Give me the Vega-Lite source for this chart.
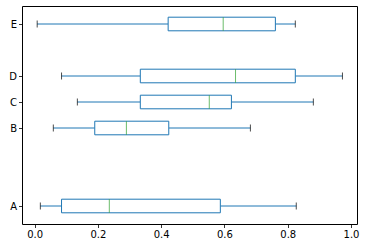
{
  "$schema": "https://vega.github.io/schema/vega-lite/v6.json",
  "width": 335,
  "height": 218,
  "autosize": "none",
  "padding": {"left": 22, "top": 6, "right": 9, "bottom": 24},
  "background": "white",
  "config": {
    "view": {"stroke": "#000000", "strokeWidth": 1},
    "axis": {
      "domain": false,
      "grid": false,
      "tickColor": "#000000",
      "tickSize": 3.5,
      "tickWidth": 0.8,
      "labelFont": "DejaVu Sans",
      "labelFontSize": 10,
      "labelColor": "#000000",
      "labelPadding": 2,
      "title": null
    }
  },
  "data": {
    "values": [
      {"name": "A", "pos": 1, "low": 0.018, "q1": 0.085, "median": 0.236, "q3": 0.587, "high": 0.827},
      {"name": "B", "pos": 4, "low": 0.059, "q1": 0.190, "median": 0.290, "q3": 0.424, "high": 0.682},
      {"name": "C", "pos": 5, "low": 0.135, "q1": 0.334, "median": 0.552, "q3": 0.622, "high": 0.881},
      {"name": "D", "pos": 6, "low": 0.085, "q1": 0.334, "median": 0.635, "q3": 0.824, "high": 0.973},
      {"name": "E", "pos": 8, "low": 0.008, "q1": 0.422, "median": 0.596, "q3": 0.761, "high": 0.824}
    ]
  },
  "encoding": {
    "y": {
      "field": "pos",
      "type": "quantitative",
      "scale": {"domain": [0.5, 8.5], "nice": false, "zero": false},
      "axis": {
        "values": [1, 4, 5, 6, 8],
        "labelExpr": "datum.value == 1 ? 'A' : datum.value == 4 ? 'B' : datum.value == 5 ? 'C' : datum.value == 6 ? 'D' : 'E'"
      }
    }
  },
  "layer": [
    {
      "mark": {"type": "rule", "color": "#1f77b4", "strokeWidth": 1},
      "encoding": {
        "x": {"field": "low", "type": "quantitative", "scale": {"domain": [-0.040, 1.019], "nice": false, "zero": false}, "axis": {"values": [0, 0.2, 0.4, 0.6, 0.8, 1.0], "format": ".1f"}},
        "x2": {"field": "q1"}
      }
    },
    {
      "mark": {"type": "rule", "color": "#1f77b4", "strokeWidth": 1},
      "encoding": {
        "x": {"field": "q3", "type": "quantitative"},
        "x2": {"field": "high"}
      }
    },
    {
      "mark": {"type": "tick", "orient": "vertical", "color": "#000000", "size": 7, "thickness": 1},
      "encoding": {"x": {"field": "low", "type": "quantitative"}}
    },
    {
      "mark": {"type": "tick", "orient": "vertical", "color": "#000000", "size": 7, "thickness": 1},
      "encoding": {"x": {"field": "high", "type": "quantitative"}}
    },
    {
      "mark": {"type": "bar", "height": 13.6, "fill": "white", "stroke": "#1f77b4", "strokeWidth": 1},
      "encoding": {
        "x": {"field": "q1", "type": "quantitative"},
        "x2": {"field": "q3"}
      }
    },
    {
      "mark": {"type": "tick", "orient": "vertical", "color": "#2ca02c", "size": 13.6, "thickness": 1},
      "encoding": {"x": {"field": "median", "type": "quantitative"}}
    }
  ]
}
